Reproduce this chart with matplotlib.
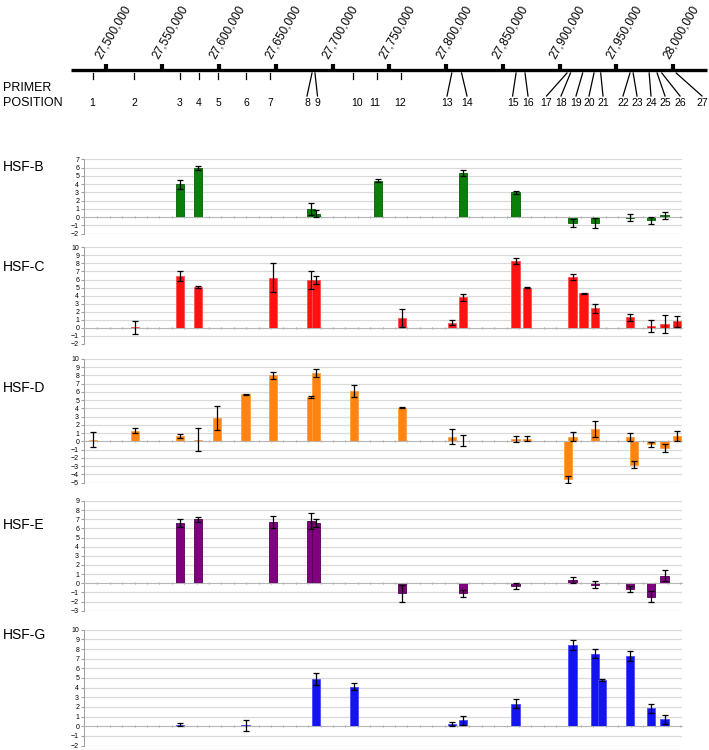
import numpy as np
import matplotlib.pyplot as plt

plt.rcParams['font.family'] = ['Liberation Sans', 'DejaVu Sans']

# primer positions on the chromosome (bp)
primer_ids = list(range(1, 28))
primer_pos = [27488450, 27525000, 27565500, 27582200, 27599000, 27623600, 27644800,
              27681800, 27684400, 27718000, 27739000, 27760000, 27805000, 27813600,
              27861600, 27869500, 27906500, 27909600, 27920300, 27930300, 27936200,
              27962000, 27964800, 27978900, 27985900, 27990000, 28002700]
major_pos = list(range(27500000, 28000001, 50000))

# enrichment per primer (value, error) for each factor
b_primer = [3, 4, 8, 9, 11, 14, 15, 18, 20, 22, 24, 25]
b_val = [4.0, 5.9, 1.0, 0.4, 4.4, 5.3, 3.0, -0.7, -0.7, -0.05, -0.4, 0.2]
b_err = [0.55, 0.25, 0.7, 0.4, 0.2, 0.36, 0.15, 0.5, 0.6, 0.4, 0.4, 0.4]

c_primer = [2, 3, 4, 7, 8, 9, 12, 13, 14, 15, 16, 18, 19, 20, 22, 24, 25, 26]
c_val = [0.1, 6.4, 5.1, 6.2, 5.9, 5.9, 1.25, 0.65, 3.8, 8.3, 5.0, 6.3, 4.3, 2.45, 1.3, 0.25, 0.5, 0.8]
c_err = [0.8, 0.6, 0.1, 1.8, 1.1, 0.5, 1.15, 0.3, 0.45, 0.4, 0.1, 0.35, 0.05, 0.55, 0.4, 0.7, 1.1, 0.7]

d_primer = [1, 2, 3, 4, 5, 6, 7, 8, 9, 10, 12, 13, 14, 15, 16, 17, 18, 20, 22, 23, 24, 25, 26]
d_val = [0.2, 1.3, 0.65, 0.2, 2.85, 5.7, 8.0, 5.4, 8.3, 6.1, 4.1, 0.6, 0.1, 0.3, 0.35,
         -4.6, 0.55, 1.5, 0.55, -2.8, -0.35, -0.8, 0.7]
d_err = [0.9, 0.3, 0.2, 1.4, 1.5, 0.05, 0.4, 0.1, 0.5, 0.75, 0.05, 0.9, 0.65, 0.4, 0.35,
         0.45, 0.55, 1.0, 0.5, 0.4, 0.33, 0.5, 0.6]

e_primer = [3, 4, 7, 8, 9, 12, 14, 15, 18, 20, 22, 24, 25]
e_val = [6.6, 7.0, 6.75, 6.8, 6.6, -1.1, -1.1, -0.3, 0.35, -0.15, -0.65, -1.45, 0.85]
e_err = [0.4, 0.25, 0.65, 0.85, 0.45, 0.9, 0.4, 0.35, 0.3, 0.35, 0.3, 0.6, 0.55]

g_primer = [3, 6, 9, 10, 13, 14, 15, 18, 20, 21, 22, 24, 25]
g_val = [0.15, 0.1, 4.9, 4.1, 0.25, 0.6, 2.35, 8.4, 7.5, 4.8, 7.25, 1.85, 0.7]
g_err = [0.15, 0.55, 0.6, 0.4, 0.2, 0.5, 0.5, 0.5, 0.45, 0.08, 0.5, 0.5, 0.45]

# lane of each primer in the bar panels (pixel columns)
lane_x = [93, 135, 180, 198, 217, 245.5, 273, 311, 316, 354, 378, 402, 452, 463,
          515.5, 527, 568, 572.5, 583.5, 595, 602, 630, 634, 651, 664.5, 677, 690]
# primer number label columns (pixels)
label_x = [92, 134, 180, 199, 218, 246, 270, 307, 317.5, 357, 375, 400, 447, 467,
           512.6, 528, 546.5, 561, 576, 589, 603, 623, 637, 651, 665, 680, 702]

W, H = 709, 750
fig = plt.figure(figsize=(W / 100, H / 100), dpi=100)

# ---- chromosome map ----
def px2bp(px):
    return 27500000 + (px - 105.7) / 56.74 * 50000

ax = fig.add_axes([0, 1 - 115 / H, 1, 115 / H])
ax.set_xlim(px2bp(0), px2bp(W))
ax.set_ylim(115, 0)
ax.axis('off')
ax.plot([px2bp(71), px2bp(707)], [70, 70], color='black', lw=2.4, solid_capstyle='butt')
ax.vlines(major_pos, 64, 71, color='black', lw=3)
for p in major_pos:
    ax.text(p - 1500, 61, f'{p:,}', rotation=60, rotation_mode='anchor',
            ha='left', va='bottom', fontsize=8.5)

for i, p in enumerate(primer_pos):
    lx = px2bp(label_x[i])
    if primer_ids[i] in (1, 2, 3, 4, 5, 6, 7, 10, 11, 12):
        ax.plot([p, p], [73, 79], color='black', lw=0.9)
    else:
        ax.plot([p, lx], [73, 96], color='black', lw=0.9)
    ax.text(lx, 103, str(primer_ids[i]), ha='center', va='center', fontsize=7.5)

fig.text(3 / W, 1 - 88 / H, 'PRIMER', fontsize=9, va='center')
fig.text(3 / W, 1 - 103 / H, 'POSITION', fontsize=9, va='center')

# ---- bar panels ----
panels = [
    ('HSF-B', b_primer, b_val, b_err, '#0a800a', '#056005', (-2, 7), 159.3, 233.6, 167),
    ('HSF-C', c_primer, c_val, c_err, '#ff1212', '#ff5050', (-2, 10), 247.3, 344, 267),
    ('HSF-D', d_primer, d_val, d_err, '#ff8412', '#ffa040', (-5, 10), 359, 482.7, 388),
    ('HSF-E', e_primer, e_val, e_err, '#800080', '#500050', (-3, 9), 501, 610.7, 525),
    ('HSF-G', g_primer, g_val, g_err, '#1414f0', '#4a4aff', (-2, 10), 629.7, 745.5, 635),
]

for name, prim, val, err, col, edge, (y0, y1), top, bot, ly in panels:
    a = fig.add_axes([84 / W, 1 - bot / H, (682 - 84) / W, (bot - top) / H])
    xs = [lane_x[k - 1] for k in prim]
    a.set_xlim(84, 682)
    a.set_ylim(y0, y1)
    a.set_yticks(range(y0, y1 + 1))
    a.grid(axis='y', color='#d9d9d9', lw=0.9, zorder=0)
    a.bar(xs, val, width=8.5, color=col, edgecolor=edge, lw=0.6, zorder=2)
    a.errorbar(xs, val, yerr=err, fmt='none', ecolor='black', elinewidth=0.9,
               capsize=2.2, capthick=0.9, zorder=3)
    for s in ('top', 'right'):
        a.spines[s].set_visible(False)
    a.spines['bottom'].set_position(('data', 0))
    a.spines['bottom'].set_color('#b5b5b5')
    a.spines['bottom'].set_linewidth(0.7)
    a.spines['left'].set_color('#a0a0a0')
    a.spines['left'].set_linewidth(0.7)
    a.set_xticks(np.arange(97.3, 682, 12.4))
    a.tick_params(axis='x', length=2, direction='inout', color='#a0a0a0', labelbottom=False)
    a.tick_params(axis='y', length=2, color='#a0a0a0', labelsize=5, pad=1.5)
    a.set_axisbelow(True)
    fig.text(3 / W, 1 - ly / H, name, fontsize=10, va='center')

fig.savefig('out.png', dpi=100)
